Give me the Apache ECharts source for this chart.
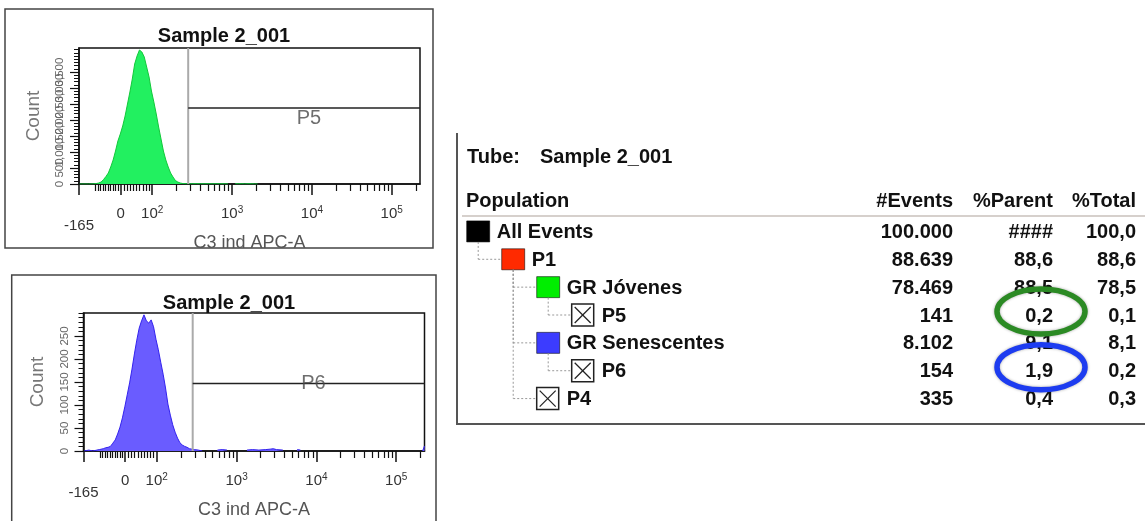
<!DOCTYPE html>
<html>
<head>
<meta charset="utf-8">
<script src="https://cdn.jsdelivr.net/npm/echarts@6/dist/echarts.min.js"></script>
<style>
  html, body { margin: 0; padding: 0; background: #ffffff; }
  #chart { width: 1145px; height: 521px; }
</style>
</head>
<body>
<div id="chart"></div>
<script>
// ---------- Display scale (biexponential: linear around zero, log10 above 100) ----------
function toChannel(v) {
  if (v >= 100) return Math.log10(v);
  if (v >= 0) return 1.604 + v / 100 * 0.396;
  return 1.604 + v / 165 * 0.5215;
}
const X_MIN = toChannel(-165);
const X_MAX = 5.354;

// ---------- Axis ticks ----------
const xMajorTicks = [-165, 0, 100, 1000, 10000, 100000];
const xTickLabels = ['-165', '0', '10^2', '10^3', '10^4', '10^5'];
const xMinorTicks = [-100, -90, -80, -70, -60, -50, -40, -30, -20, -10,
  10, 20, 30, 40, 50, 60, 70, 80, 90,
  200, 300, 400, 500, 600, 700, 800, 900,
  2000, 3000, 4000, 5000, 6000, 7000, 8000, 9000,
  20000, 30000, 40000, 50000, 60000, 70000, 80000, 90000, 200000];

const topYMax = 4250;
const topYLabels = [0, 500, 1000, 1500, 2000, 2500, 3000, 3500, 4000];
const bottomYMax = 300;
const bottomYLabels = [0, 50, 100, 150, 200, 250];

// ---------- Histograms (channel = display position, count = events per bin) ----------
const greenChannels = [1.09, 1.20, 1.27,
  1.30, 1.33, 1.36, 1.39, 1.42, 1.45, 1.48, 1.51, 1.54, 1.57, 1.60, 1.63, 1.66, 1.69, 1.72, 1.75,
  1.78, 1.81, 1.84, 1.87, 1.90, 1.93, 1.96, 1.99, 2.02, 2.05, 2.08, 2.11, 2.14, 2.17, 2.20, 2.23,
  2.26, 2.29, 2.32, 2.35, 2.38,
  2.41, 2.45, 2.50, 2.55, 2.60, 2.65, 2.70, 2.75, 2.80, 2.85, 2.90, 2.95, 3.00,
  3.04, 3.08, 3.12, 3.16, 3.20, 3.24, 3.28, 3.32];
const greenCounts = [0, 0, 4,
  16, 31, 62, 140, 234, 344, 531, 750, 1031, 1344, 1563, 1813, 2125, 2500, 2875, 3281,
  3750, 4000, 4188, 4125, 3969, 3656, 3344, 2906, 2563, 2188, 1781, 1406, 1031, 750, 531, 344,
  219, 109, 62, 31, 16,
  10, 8, 6, 9, 6, 5, 7, 4, 6, 5, 4, 3, null,
  5, 4, 6, 3, 5, 4, 3, 0];

const blueChannels = [1.09, 1.15, 1.20, 1.25, 1.28,
  1.30, 1.33, 1.36, 1.39, 1.42, 1.45, 1.48, 1.51, 1.54, 1.57, 1.60, 1.63, 1.66, 1.69, 1.72, 1.75,
  1.78, 1.81, 1.84, 1.87, 1.90, 1.93, 1.96, 1.99, 2.02, 2.05, 2.08, 2.11, 2.14, 2.17, 2.20, 2.23,
  2.26, 2.29, 2.32, 2.35, 2.38, 2.41, 2.44, 2.47,
  2.52, 2.57, 2.65,
  2.76, 2.82, 2.88, 2.95,
  3.13, 3.20, 3.28, 3.36, 3.42, 3.46, 3.50, 3.58, 3.66,
  3.76, 3.80, 3.90,
  5.33, 5.354];
const blueCounts = [0, 2, 0, 2, 3,
  4, 5, 7, 8, 10, 17, 24, 37, 52, 72, 96, 122, 148, 178, 211, 241,
  267, 283, 296, 283, 278, 285, 270, 243, 220, 193, 167, 137, 102, 78, 57, 41,
  28, 18, 13, 10, 8, 5, 4, 3,
  2, 0, null,
  2, 3, 2, null,
  2, 3, 2, 3, 4, 5, 3, 2, null,
  3, 2, null,
  0, 11];

// ---------- Gates ----------
const gateStart = 282;          // lower bound of the P5 / P6 interval gates
const p5GateLevel = 2375;
const p6GateLevel = 147;

// ---------- Population hierarchy table ----------
const popNames   = ['All Events', 'P1', 'GR Jóvenes', 'P5', 'GR Senescentes', 'P6', 'P4'];
const popLevels  = [0, 1, 2, 3, 2, 3, 2];
const popParents = [-1, 0, 1, 2, 1, 4, 1];
const popColors  = ['#000000', '#ff2a00', '#00ee00', null, '#3c3cff', null, null];
const popEvents  = ['100.000', '88.639', '78.469', '141', '8.102', '154', '335'];
const popParent  = ['####', '88,6', '88,5', '0,2', '9,1', '1,9', '0,4'];
const popTotal   = ['100,0', '88,6', '78,5', '0,1', '8,1', '0,2', '0,3'];
const popCircle  = [null, null, null, '#2b8a24', null, '#1d3cf0', null];

const FONT = '"Liberation Sans", Arial, sans-serif';

function zip(xs, ys) {
  return xs.map((x, i) => [x, ys[i] === null ? '-' : ys[i]]);
}

function fmtX(value) {
  const i = xMajorTicks.findIndex(t => Math.abs(toChannel(t) - value) < 1e-9);
  if (i < 0) return '';
  const s = xTickLabels[i];
  if (s.charAt(0) === '-') return '\n' + s;
  return s.replace(/\^(\d+)/, '{sup|$1}');
}

function xAxes(grid) {
  return [{
    type: 'value', gridIndex: grid, min: X_MIN, max: X_MAX, position: 'bottom',
    axisLine: { show: true, onZero: false, lineStyle: { color: '#111', width: 1.5 } },
    axisTick: { show: true, customValues: xMajorTicks.map(toChannel), length: 11,
      lineStyle: { color: '#111', width: 1.5 } },
    axisLabel: { show: true, customValues: xMajorTicks.map(toChannel), formatter: fmtX,
      margin: 24, fontSize: 15, lineHeight: 12, color: '#333', fontFamily: FONT,
      rich: { sup: { fontSize: 10, padding: [0, 0, 8, 0], color: '#333', fontFamily: FONT } } },
    splitLine: { show: false },
    name: 'C3 ind APC-A', nameLocation: 'middle', nameGap: 43,
    nameTextStyle: { fontSize: 18, color: '#555', fontFamily: FONT }
  }, {
    type: 'value', gridIndex: grid, min: X_MIN, max: X_MAX, position: 'bottom',
    axisLine: { show: false },
    axisTick: { show: true, customValues: xMinorTicks.map(toChannel), length: 7,
      lineStyle: { color: '#111', width: 1.2 } },
    axisLabel: { show: false },
    splitLine: { show: false }
  }];
}

function yAxes(grid, yMax, labels, minorStep) {
  const minor = [];
  for (let v = 0; v <= yMax; v += minorStep) minor.push(v);
  return [{
    type: 'value', gridIndex: grid, min: 0, max: yMax, position: 'left',
    axisLine: { show: true, lineStyle: { color: '#111', width: 1.5 } },
    axisTick: { show: true, customValues: labels, length: 9, lineStyle: { color: '#111', width: 1.2 } },
    axisLabel: { show: true, customValues: labels, rotate: 90, fontSize: 11.5, color: '#666',
      margin: 13, fontFamily: FONT },
    splitLine: { show: false },
    name: 'Count', nameLocation: 'middle', nameGap: 36, nameRotate: 90,
    nameTextStyle: { fontSize: 19, color: '#777', fontFamily: FONT }
  }, {
    type: 'value', gridIndex: grid, min: 0, max: yMax, position: 'left',
    axisLine: { show: false },
    axisTick: { show: true, customValues: minor, length: 5, lineStyle: { color: '#111', width: 1 } },
    axisLabel: { show: false },
    splitLine: { show: false }
  }];
}

function histSeries(ax, channels, counts, edge, fill) {
  return {
    type: 'line', xAxisIndex: ax, yAxisIndex: ax, data: zip(channels, counts),
    showSymbol: false, symbol: 'none', connectNulls: false, z: 2,
    lineStyle: { color: edge, width: 1 },
    areaStyle: { color: fill, opacity: 1 }
  };
}

function gateSeries(ax, yMax, level, name, labelPos) {
  const gx = toChannel(gateStart);
  return [{
    type: 'line', xAxisIndex: ax, yAxisIndex: ax, symbol: 'none', z: 3,
    data: [[gx, 0], [gx, yMax]],
    lineStyle: { color: '#aaaaaa', width: 2 }
  }, {
    type: 'line', xAxisIndex: ax, yAxisIndex: ax, symbol: 'none', z: 3,
    data: [[gx, level], [X_MAX, level]],
    lineStyle: { color: '#222', width: 1.5 }
  }, {
    type: 'scatter', xAxisIndex: ax, yAxisIndex: ax, symbolSize: 0, z: 4,
    data: [[(gx + X_MAX) / 2 + 0.06, level]],
    label: { show: true, formatter: name, position: labelPos, distance: 0,
      fontSize: 20, color: '#4a4a4a', fontFamily: FONT }
  }];
}

// Table rows: swatch, tree connectors, name, and the three numeric columns
const COL = { swatch: 9.7, indent: 35, events: 496, parent: 596, total: 679 };
function renderRow(params, api) {
  const i = api.value(1);
  const y = api.coord([0, i])[1];
  const x0 = params.coordSys.x;
  const sx = x0 + COL.swatch + popLevels[i] * COL.indent;
  const sy = y - 1;
  const kids = [];
  const dotted = { stroke: '#999', lineWidth: 1, lineDash: [2, 2] };
  const p = popParents[i];
  if (p >= 0) {
    const py = api.coord([0, p])[1] - 1;
    const px = x0 + COL.swatch + popLevels[p] * COL.indent + 11.5;
    kids.push({ type: 'line', shape: { x1: px, y1: py + 10.5, x2: px, y2: sy }, style: dotted });
    kids.push({ type: 'line', shape: { x1: px, y1: sy, x2: sx, y2: sy }, style: dotted });
  }
  if (popColors[i]) {
    kids.push({ type: 'rect', shape: { x: sx, y: sy - 10.5, width: 23, height: 21 },
      style: { fill: popColors[i], stroke: 'rgba(0,0,0,0.55)', lineWidth: 1 } });
  } else {
    kids.push({ type: 'rect', shape: { x: sx, y: sy - 11, width: 22, height: 22 },
      style: { fill: '#fff', stroke: '#222', lineWidth: 1.5 } });
    kids.push({ type: 'line', shape: { x1: sx + 3, y1: sy - 8, x2: sx + 19, y2: sy + 8 },
      style: { stroke: '#222', lineWidth: 1.2 } });
    kids.push({ type: 'line', shape: { x1: sx + 19, y1: sy - 8, x2: sx + 3, y2: sy + 8 },
      style: { stroke: '#222', lineWidth: 1.2 } });
  }
  const txt = (text, x, align) => ({ type: 'text', style: { text: text, x: x, y: y,
    align: align, verticalAlign: 'middle', fill: '#111', font: 'bold 20px ' + FONT } });
  kids.push(txt(popNames[i], sx + 30, 'left'));
  kids.push(txt(popEvents[i], x0 + COL.events, 'right'));
  kids.push(txt(popParent[i], x0 + COL.parent, 'right'));
  kids.push(txt(popTotal[i], x0 + COL.total, 'right'));
  if (popCircle[i]) {
    kids.push({ type: 'ellipse', z2: 10,
      shape: { cx: x0 + COL.parent - 12, cy: y - 4.5, rx: 44, ry: 22.5 },
      style: { fill: 'none', stroke: popCircle[i], lineWidth: 5.5,
        shadowBlur: 3, shadowColor: 'rgba(0,0,0,0.35)' } });
  }
  return { type: 'group', children: kids };
}

const chart = echarts.init(document.getElementById('chart'), null, { renderer: 'canvas' });

const headerFont = 'bold 20px ' + FONT;
chart.setOption({
  animation: false,
  backgroundColor: '#ffffff',
  title: [
    { text: 'Sample 2_001', left: 219, top: 21, textAlign: 'center',
      textStyle: { fontSize: 20, fontWeight: 'bold', color: '#111', fontFamily: FONT } },
    { text: 'Sample 2_001', left: 224, top: 288, textAlign: 'center',
      textStyle: { fontSize: 20, fontWeight: 'bold', color: '#111', fontFamily: FONT } }
  ],
  grid: [
    { left: 79, top: 48, width: 341, height: 136, show: true, borderColor: '#111', borderWidth: 1.5 },
    { left: 83.5, top: 313, width: 341, height: 138, show: true, borderColor: '#111', borderWidth: 1.5 },
    { left: 457, top: 218.5, width: 688, height: 195, show: false }
  ],
  xAxis: [].concat(xAxes(0), xAxes(1), [
    { type: 'value', gridIndex: 2, min: 0, max: 1, show: false }
  ]),
  yAxis: [].concat(yAxes(0, topYMax, topYLabels, 100), yAxes(1, bottomYMax, bottomYLabels, 10), [
    { type: 'category', gridIndex: 2, data: popNames, inverse: true, show: false }
  ]),
  series: [].concat(
    [histSeries(0, greenChannels, greenCounts, '#12c83a', '#22f060')],
    gateSeries(0, topYMax, p5GateLevel, 'P5', 'bottom'),
    [histSeries(2, blueChannels, blueCounts, '#3322ee', '#6a5cff')],
    gateSeries(2, bottomYMax, p6GateLevel, 'P6', 'inside'),
    [{
      type: 'custom', xAxisIndex: 4, yAxisIndex: 4, coordinateSystem: 'cartesian2d',
      clip: false, renderItem: renderRow,
      data: popNames.map((n, i) => [0, i]),
      encode: { x: 0, y: 1 }
    }]
  ),
  graphic: [
    { type: 'rect', shape: { x: 5, y: 9, width: 428, height: 239 },
      style: { fill: 'none', stroke: '#444', lineWidth: 1.5 } },
    { type: 'polyline', shape: { points: [[11.7, 530], [11.7, 275], [436, 275], [436, 530]] },
      style: { fill: 'none', stroke: '#444', lineWidth: 1.5 } },
    { type: 'polyline', shape: { points: [[457, 133], [457, 424], [1150, 424]] },
      style: { fill: 'none', stroke: '#555', lineWidth: 2 } },
    { type: 'line', shape: { x1: 462, y1: 216, x2: 1145, y2: 216 },
      style: { stroke: '#d6d0cc', lineWidth: 2 } },
    { type: 'text', style: { text: 'Tube:', x: 467, y: 157, verticalAlign: 'middle', font: headerFont, fill: '#111' } },
    { type: 'text', style: { text: 'Sample 2_001', x: 540, y: 157, verticalAlign: 'middle', font: headerFont, fill: '#111' } },
    { type: 'text', style: { text: 'Population', x: 466, y: 201, verticalAlign: 'middle', font: headerFont, fill: '#111' } },
    { type: 'text', style: { text: '#Events', x: 953, y: 201, align: 'right', verticalAlign: 'middle', font: headerFont, fill: '#111' } },
    { type: 'text', style: { text: '%Parent', x: 1053, y: 201, align: 'right', verticalAlign: 'middle', font: headerFont, fill: '#111' } },
    { type: 'text', style: { text: '%Total', x: 1136, y: 201, align: 'right', verticalAlign: 'middle', font: headerFont, fill: '#111' } }
  ]
});
</script>
</body>
</html>
